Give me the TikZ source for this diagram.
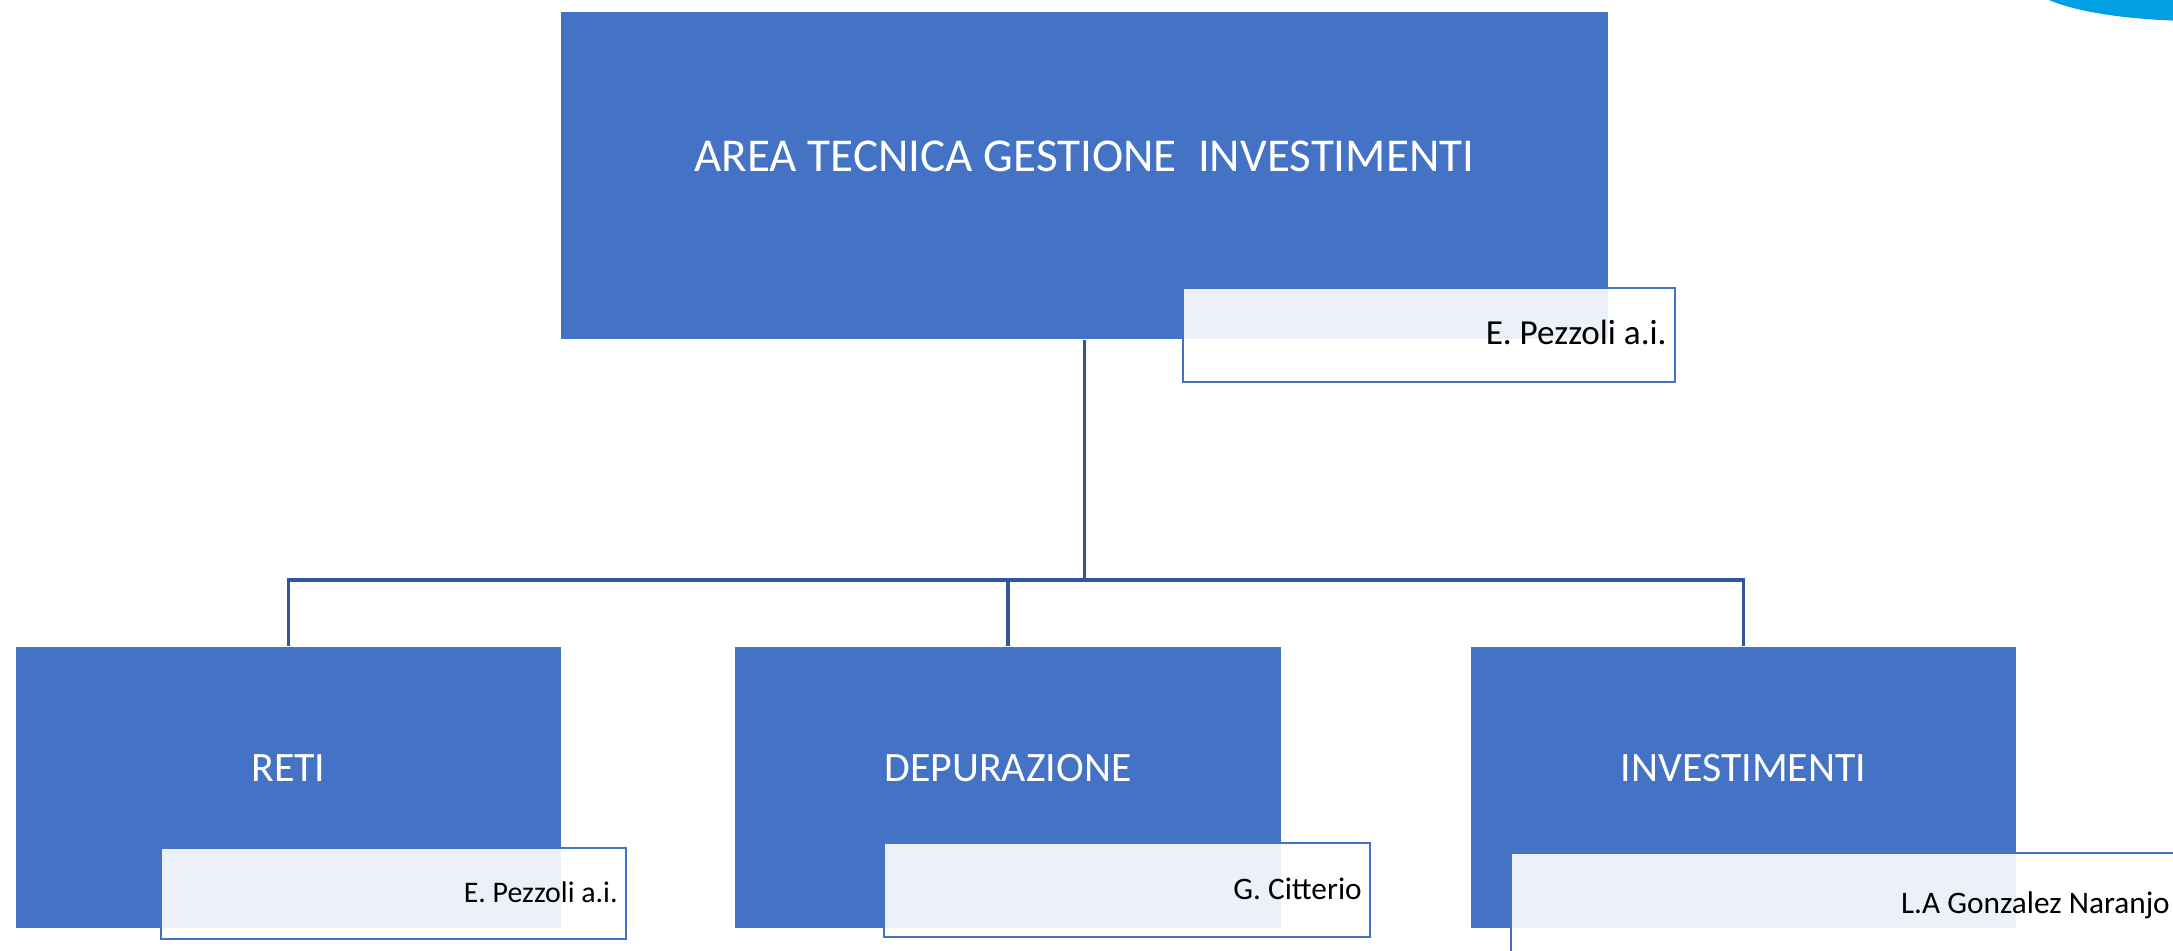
\documentclass[tikz,border=0pt]{standalone}
\usepackage{fontspec}
\setmainfont{Carlito}
\definecolor{unitblue}{RGB}{68,114,196}
\definecolor{linkblue}{RGB}{50,86,156}
\definecolor{logoblue}{RGB}{0,160,227}

\begin{document}
\begin{tikzpicture}[x=0.01cm,y=-0.01cm,
    unit/.style={fill=unitblue,inner sep=0pt},
    unittext/.style={text=white,inner sep=0pt,font=\fontsize{11.9}{14}\selectfont},
    namebox/.style={draw=unitblue,line width=0.7pt,fill=white,fill opacity=0.9,inner sep=0pt},
    nametext/.style={anchor=base east,inner sep=0pt,xshift=-0.09cm,yshift=-0.09cm,font=\fontsize{8.9}{10}\selectfont},
    link/.style={draw=linkblue,line width=0.9pt}]
    \useasboundingbox (0,0) rectangle (2173,950);
    \fill[logoblue] (2200,-18) ellipse [x radius=1.7cm,y radius=0.39cm];
    % top unit
    \node[unit,minimum width=10.47cm,minimum height=3.27cm] (area) at (1084.5,175.5) {};
    \node[unittext,font=\fontsize{13.4}{16}\selectfont] (area-t) at (1084.5,156) {AREA TECNICA GESTIONE~ INVESTIMENTI};
    % second level
    \foreach \n/\x/\t in {reti/288.5/RETI,depur/1008/DEPURAZIONE,invest/1743.5/INVESTIMENTI} {
      \node[unit,minimum width=5.45cm,minimum height=2.81cm] (\n) at (\x,787.5) {};
      \node[unittext] (\n-t) at (\x,768) {\t};
    }
    \coordinate (bus) at (1084.5,580);
    \draw[link] (area.south) -- (bus);
    \foreach \n in {reti,depur,invest}
      \draw[link] (bus) -| (\n.north);
    % names
    \node[namebox,minimum width=4.92cm,minimum height=0.94cm] (area-n) at (1429,335) {};
    \node[namebox,minimum width=4.65cm,minimum height=0.91cm] (reti-n) at (393.5,893.5) {};
    \node[namebox,minimum width=4.86cm,minimum height=0.94cm] (depur-n) at (1127,890) {};
    \node[namebox,minimum width=6.69cm,minimum height=1.02cm] (invest-n) at (1845.5,904) {};
    \node[nametext,font=\fontsize{10}{12}\selectfont] (area-p) at (area-n.east) {E. Pezzoli a.i.};
    \node[nametext,font=\fontsize{8.5}{10}\selectfont] (reti-p) at (reti-n.east) {E. Pezzoli a.i.};
    \node[nametext] (depur-p) at (depur-n.east) {G. Citterio};
    \node[nametext] (invest-p) at ([xshift=-0.02cm]invest-n.east) {L.A Gonzalez Naranjo};
\end{tikzpicture}
\end{document}
